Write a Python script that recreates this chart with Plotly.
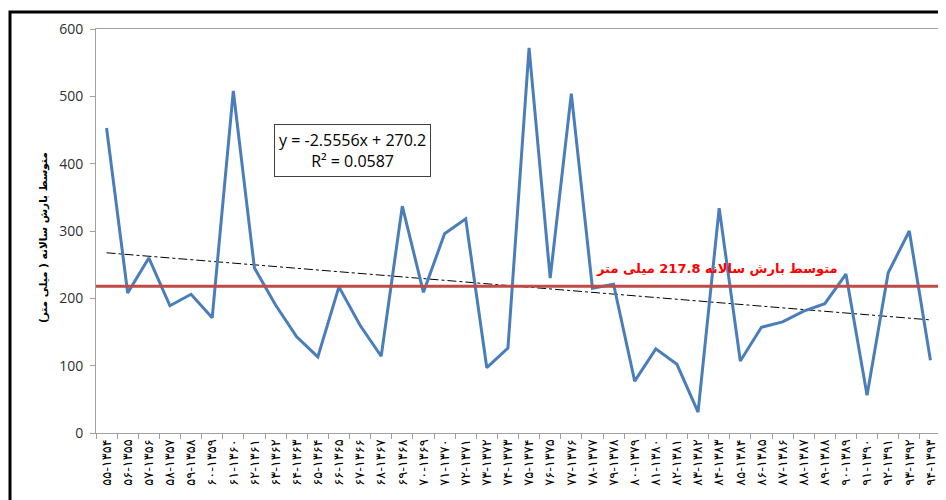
import plotly.graph_objects as go

years = ["۵۵-۱۳۵۴", "۵۶-۱۳۵۵", "۵۷-۱۳۵۶", "۵۸-۱۳۵۷", "۵۹-۱۳۵۸", "۶۰-۱۳۵۹", "۶۱-۱۳۶۰", "۶۲-۱۳۶۱",
         "۶۳-۱۳۶۲", "۶۴-۱۳۶۳", "۶۵-۱۳۶۴", "۶۶-۱۳۶۵", "۶۷-۱۳۶۶", "۶۸-۱۳۶۷", "۶۹-۱۳۶۸", "۷۰-۱۳۶۹",
         "۷۱-۱۳۷۰", "۷۲-۱۳۷۱", "۷۳-۱۳۷۲", "۷۴-۱۳۷۳", "۷۵-۱۳۷۴", "۷۶-۱۳۷۵", "۷۷-۱۳۷۶", "۷۸-۱۳۷۷",
         "۷۹-۱۳۷۸", "۸۰-۱۳۷۹", "۸۱-۱۳۸۰", "۸۲-۱۳۸۱", "۸۳-۱۳۸۲", "۸۴-۱۳۸۳", "۸۵-۱۳۸۴", "۸۶-۱۳۸۵",
         "۸۷-۱۳۸۶", "۸۸-۱۳۸۷", "۸۹-۱۳۸۸", "۹۰-۱۳۸۹", "۹۱-۱۳۹۰", "۹۲-۱۳۹۱", "۹۳-۱۳۹۲", "۹۴-۱۳۹۳"]

rainfall = [453, 208, 260, 189, 206, 171, 508, 245, 190, 143,
            113, 217, 160, 114, 337, 209, 296, 318, 97, 126,
            572, 230, 504, 215, 221, 77, 125, 102, 31, 334,
            107, 157, 165, 181, 192, 236, 56, 238, 300, 108]

mean_value = 217.8
trend_slope = -2.5556
trend_intercept = 270.2
trend_text = "y = -2.5556x + 270.2<br>R² = 0.0587"
mean_text = "<b>متوسط بارش سالانه 217.8 میلی متر</b>"
y_title = "<b>متوسط بارش سالانه ( میلی متر)</b>"

trend = [trend_slope * (i + 1) + trend_intercept for i in range(len(years))]

fig = go.Figure()
fig.add_trace(go.Scatter(x=years, y=trend, mode="lines",
                         line=dict(color="black", width=1, dash="dashdot"),
                         showlegend=False, hoverinfo="skip"))
fig.add_trace(go.Scatter(x=years, y=rainfall, mode="lines",
                         line=dict(color="#4A7EBB", width=3),
                         showlegend=False))

fig.add_shape(type="line", xref="x domain", yref="y", x0=0, x1=1, y0=mean_value, y1=mean_value,
              line=dict(color="#BE4B48", width=3))

# page pixels -> paper coords (plot area spans page x 96..941, y 29..433)
pw, ph = 845.0, 404.0
fig.add_shape(type="rect", xref="paper", yref="paper",
              x0=(10 - 96) / pw, x1=(1000 - 96) / pw,
              y0=(433 - 560) / ph, y1=(433 - 12) / ph,
              line=dict(color="black", width=3), fillcolor="rgba(0,0,0,0)", layer="above")

fig.add_annotation(text=mean_text, xref="paper", yref="y", x=(717 - 96) / pw, y=245,
                   showarrow=False, font=dict(color="#FF0000", size=13, family="DejaVu Sans"),
                   xanchor="center", yanchor="middle")
fig.add_annotation(text=trend_text, xref="paper", yref="y", x=(352 - 96) / pw, y=420,
                   showarrow=False, font=dict(color="black", size=16, family="Open Sans"),
                   bordercolor="#404040", borderwidth=1, borderpad=4, bgcolor="white",
                   xanchor="center", yanchor="middle")
fig.add_annotation(text=y_title, xref="paper", yref="paper", x=(43 - 96) / pw, y=(433 - 237) / ph,
                   textangle=-90, showarrow=False,
                   font=dict(color="black", size=10.5, family="DejaVu Sans"),
                   xanchor="center", yanchor="middle")

fig.update_xaxes(type="category", range=[-0.5, len(years) - 0.5], tickson="boundaries",
                 ticks="outside", ticklen=5, automargin=False,
                 tickcolor="#A0A0A0", showline=True, linecolor="#A0A0A0", linewidth=1,
                 mirror=True, showgrid=False, tickangle=-90,
                 tickfont=dict(size=13, color="black", family="DejaVu Sans"))
fig.update_yaxes(range=[0, 600], dtick=100, ticks="outside", ticklen=5, tickcolor="#A0A0A0",
                 showline=True, linecolor="#A0A0A0", linewidth=1, mirror=True, showgrid=False,
                 zeroline=False, automargin=False, ticklabelstandoff=4,
                 tickfont=dict(size=14, color="#303030", family="Open Sans"))

# page has an 8px body margin, so the figure is offset by (8, 8)
fig.update_layout(width=938, height=492, margin=dict(l=88, r=5, t=21, b=67),
                  paper_bgcolor="white", plot_bgcolor="white", showlegend=False)

fig.write_html("out.html")
